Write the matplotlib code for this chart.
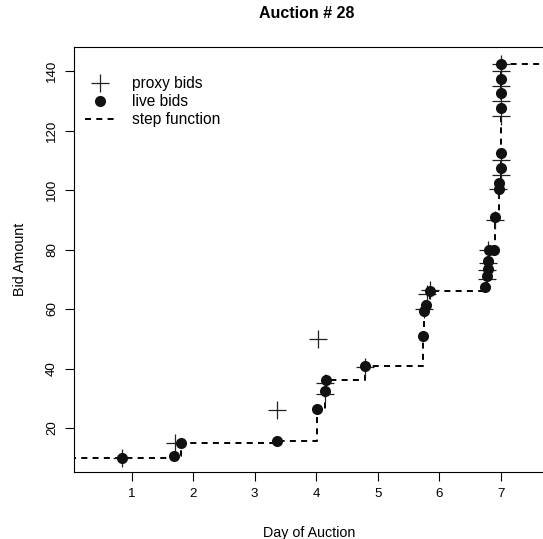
import matplotlib
matplotlib.use("Agg")
import matplotlib.pyplot as plt
from matplotlib.lines import Line2D
import numpy as np

plt.rcParams['font.family'] = ['Liberation Sans', 'DejaVu Sans']

# live bids (time in days, amount)
live_day = [0.85, 1.69, 1.80, 3.37, 4.02, 4.15, 4.16, 4.79, 5.73, 5.76, 5.78, 5.85,
            6.75, 6.78, 6.79, 6.80, 6.81, 6.89, 6.90, 6.97, 6.98, 7.00, 7.00, 7.00,
            7.00, 7.00, 7.00]
live_amt = [10.0, 10.5, 15.0, 15.5, 26.5, 32.5, 36.0, 41.0, 51.0, 59.5, 61.5, 66.0,
            67.5, 71.0, 73.5, 76.0, 80.0, 80.0, 91.0, 100.5, 102.5, 107.5, 112.5, 127.5,
            132.5, 137.5, 142.5]

# proxy bids
proxy_day = [0.85, 1.70, 3.37, 4.03, 4.15, 4.15, 4.79, 5.76, 5.80, 5.85,
             6.77, 6.78, 6.79, 6.80, 6.90, 6.96, 7.00, 7.00, 7.00, 7.00, 7.00,
             7.00, 7.00]
proxy_amt = [10.0, 15.0, 26.0, 50.0, 31.5, 35.0, 40.5, 60.0, 65.0, 66.5,
             70.0, 73.0, 75.5, 80.0, 90.0, 100.5, 105.0, 110.0, 125.0, 130.0, 135.0,
             140.0, 142.5]

# step function: opening price at start, closing price held to the end
step_start = (0.0, 10.0)
step_end_day = 8.0

xticks = [1, 2, 3, 4, 5, 6, 7]
yticks = [20, 40, 60, 80, 100, 120, 140]

W, H = 543, 539
fig = plt.figure(figsize=(W / 100, H / 100), dpi=100)
ax = fig.add_axes([74 / W, (H - 472) / H, (545 - 74) / W, 425 / H])

DASH = (3.1, 2.7)
step_x = [step_start[0]] + live_day + [step_end_day]
step_y = [step_start[1]] + live_amt + [live_amt[-1]]
ax.step(step_x, step_y, where='post', color='black', lw=1.4,
        dashes=DASH, zorder=2)

ax.plot(proxy_day, proxy_amt, linestyle='none', marker='+', markersize=13,
        markeredgewidth=0.9, color='#222222', zorder=3)
ax.plot(live_day, live_amt, linestyle='none', marker='o', markersize=8,
        color='#111111', markeredgewidth=0, zorder=4)

ax.set_xlim(0.062, 7.72)
ax.set_ylim(5.2, 148.1)
ax.set_xticks(xticks)
ax.set_yticks(yticks)
ax.set_xticklabels([str(t) for t in xticks])
ax.set_yticklabels([str(t) for t in yticks], rotation=90, va='center')
ax.tick_params(axis='both', direction='out', length=6.5, width=0.8,
               labelsize=9.6, pad=5, colors='black')
for s in ax.spines.values():
    s.set_linewidth(0.8)

ax.set_xlabel('Day of Auction', fontsize=10.3, labelpad=19)
ax.set_ylabel('Bid Amount', fontsize=10.3, labelpad=14)
fig.text(307 / W, 1 - 14 / H, 'Auction # 28', fontsize=11.5, fontweight='bold',
         ha='center', va='center')

handles = [
    Line2D([], [], linestyle='none', marker='+', markersize=13,
           markeredgewidth=0.9, color='#222222'),
    Line2D([], [], linestyle='none', marker='o', markersize=8, color='#111111',
           markeredgewidth=0),
    Line2D([], [], color='black', lw=1.4, dashes=DASH),
]
ax.legend(handles, ['proxy bids', 'live bids', 'step function'],
          loc='upper left', bbox_to_anchor=(11 / 471, 1 - 29 / 425),
          frameon=False, fontsize=11.2, borderpad=0, borderaxespad=0,
          handlelength=1.95, handletextpad=1.05, labelspacing=0.2)

fig.savefig('out.png', dpi=100)
